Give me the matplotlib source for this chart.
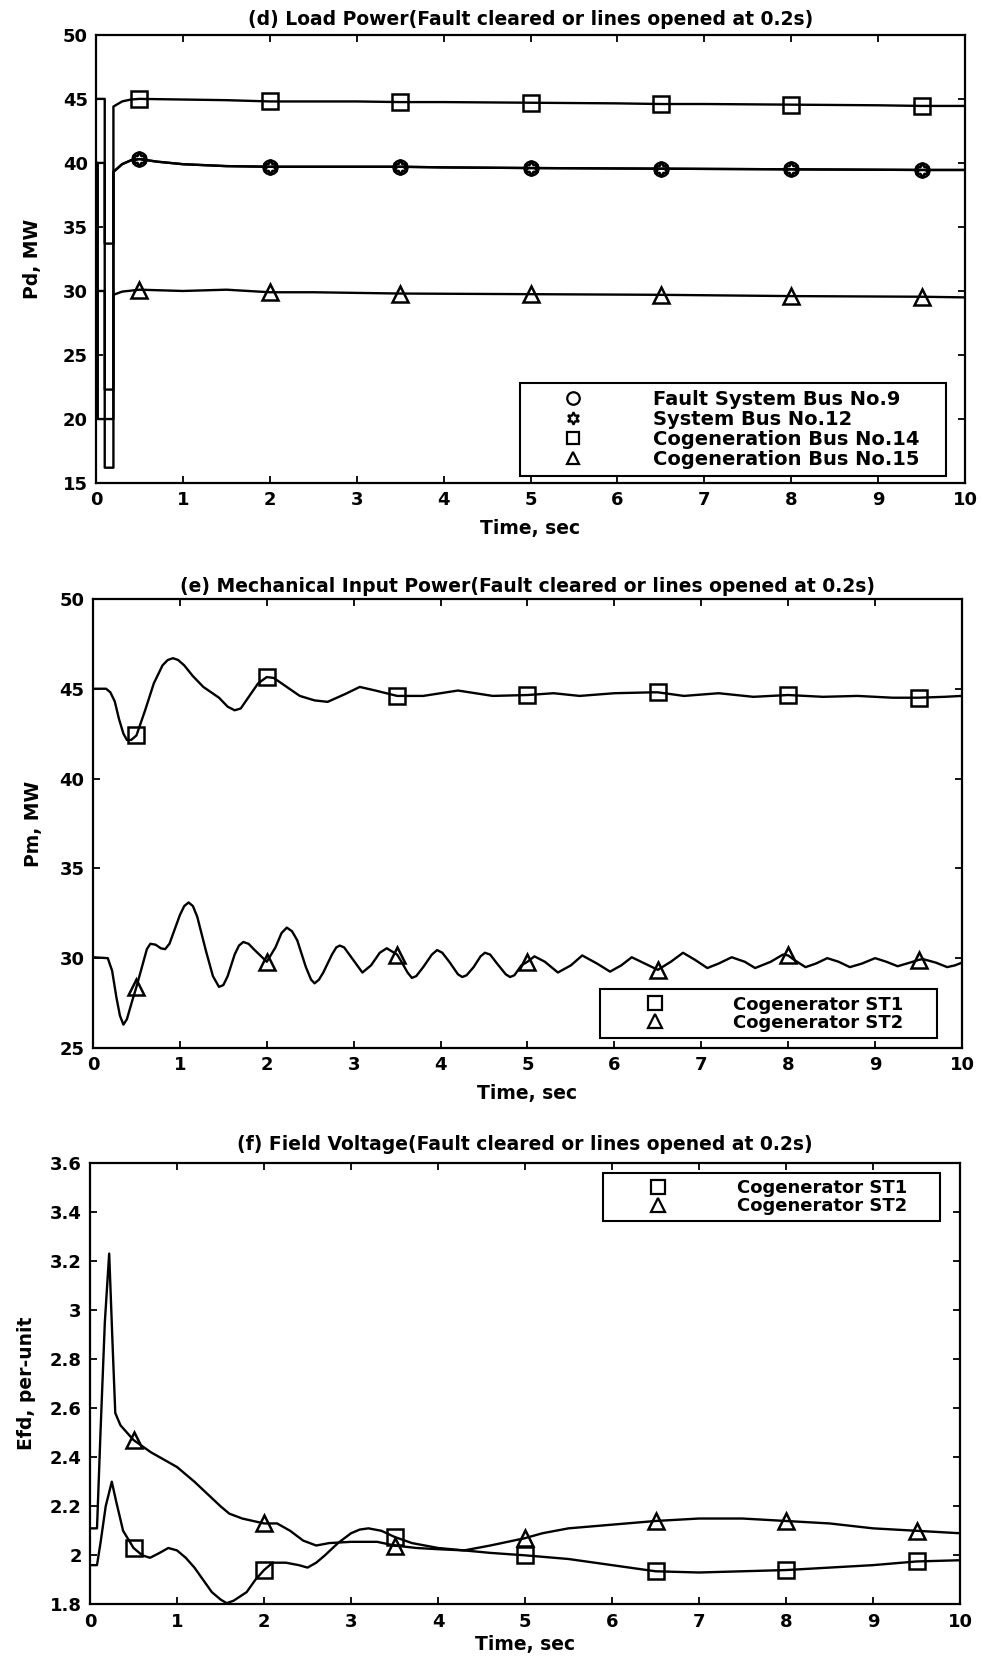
import matplotlib
matplotlib.use('Agg')
import matplotlib.pyplot as plt
from matplotlib.lines import Line2D
from matplotlib.ticker import FuncFormatter

plt.rcParams['font.family'] = ['DejaVu Sans']
plt.rcParams['font.weight'] = 'bold'

# ---- (d) load power ----
t_bus9 = [0, 0.02, 0.02, 0.2, 0.2, 0.3, 0.4, 0.5, 0.7, 1.0, 1.5, 2.0, 3.0, 3.5, 4.0, 5.0, 6.5, 8.0, 9.5, 10]
pd_bus9 = [40, 40, 20, 20, 39.3, 39.9, 40.2, 40.3, 40.1, 39.9, 39.75, 39.7, 39.7, 39.7, 39.65, 39.6, 39.55, 39.5, 39.45, 39.45]
t_bus12 = [0, 0.1, 0.1, 0.2, 0.2, 0.3, 0.4, 0.5, 0.7, 1.0, 1.5, 2.0, 3.0, 3.5, 4.0, 5.0, 6.5, 8.0, 9.5, 10]
pd_bus12 = [40, 40, 33.7, 33.7, 39.3, 39.9, 40.2, 40.3, 40.1, 39.9, 39.75, 39.7, 39.7, 39.7, 39.65, 39.6, 39.55, 39.5, 39.45, 39.45]
t_bus14 = [0, 0.1, 0.1, 0.2, 0.2, 0.3, 0.4, 0.5, 1.0, 1.5, 2.0, 3.0, 3.5, 4.0, 5.0, 6.0, 6.5, 7.0, 8.0, 9.0, 9.5, 10]
pd_bus14 = [45, 45, 16.2, 16.2, 44.4, 44.8, 44.95, 45.0, 44.95, 44.9, 44.8, 44.8, 44.75, 44.75, 44.7, 44.65, 44.6, 44.6, 44.55, 44.5, 44.45, 44.45]
t_bus15 = [0, 0.1, 0.1, 0.2, 0.2, 0.3, 0.5, 1.0, 1.5, 2.0, 2.5, 3.5, 5.0, 6.5, 8.0, 9.5, 10]
pd_bus15 = [30, 30, 22.3, 22.3, 29.7, 29.95, 30.1, 30.0, 30.1, 29.9, 29.9, 29.8, 29.75, 29.7, 29.6, 29.55, 29.5]

t_mark = [0.5, 2, 3.5, 5, 6.5, 8, 9.5]
pd_mark9 = [40.3, 39.7, 39.7, 39.6, 39.55, 39.5, 39.45]
pd_mark12 = [40.3, 39.7, 39.7, 39.6, 39.55, 39.5, 39.45]
pd_mark14 = [45.0, 44.8, 44.75, 44.7, 44.6, 44.55, 44.45]
pd_mark15 = [30.1, 29.9, 29.8, 29.75, 29.7, 29.6, 29.55]

# ---- (e) mechanical input power ----
t_pm1 = [0, 0.15, 0.2, 0.25, 0.3, 0.35, 0.39, 0.44, 0.5, 0.6, 0.7, 0.8, 0.86, 0.92, 0.98, 1.05, 1.15, 1.27,
         1.45, 1.55, 1.63, 1.7, 1.8, 1.9, 2.0, 2.08, 2.2, 2.38, 2.55, 2.7, 2.9, 3.07, 3.25, 3.5, 3.8, 4.2,
         4.6, 5.0, 5.3, 5.6, 6.0, 6.44, 6.5, 6.8, 7.2, 7.6, 8.0, 8.4, 8.8, 9.2, 9.5, 9.8, 10]
pm_st1 = [45, 45, 44.8, 44.3, 43.3, 42.5, 42.15, 42.15, 42.4, 43.8, 45.3, 46.3, 46.6, 46.7, 46.6, 46.3, 45.7, 45.1,
          44.5, 44.0, 43.8, 43.9, 44.6, 45.3, 45.65, 45.6, 45.2, 44.6, 44.35, 44.27, 44.7, 45.1, 44.9, 44.6, 44.6, 44.9,
          44.6, 44.65, 44.75, 44.6, 44.75, 44.8, 44.8, 44.6, 44.75, 44.55, 44.65, 44.55, 44.6, 44.5, 44.5, 44.55, 44.6]
t_pm2 = [0, 0.17, 0.22, 0.27, 0.31, 0.35, 0.39, 0.45, 0.5, 0.58, 0.62, 0.66, 0.72, 0.78, 0.83, 0.88, 0.94, 1.0,
         1.05, 1.1, 1.15, 1.2, 1.3, 1.38, 1.45, 1.5, 1.55, 1.63, 1.68, 1.73, 1.79, 1.85, 2.0, 2.1, 2.17, 2.23,
         2.29, 2.35, 2.45, 2.51, 2.55, 2.6, 2.65, 2.75, 2.8, 2.84, 2.89, 2.95, 3.1, 3.2, 3.3, 3.38, 3.5,
         3.55, 3.62, 3.67, 3.72, 3.8, 3.9, 3.96, 4.02, 4.1, 4.2, 4.25, 4.3, 4.38, 4.46, 4.51, 4.57, 4.65, 4.75,
         4.8, 4.85, 4.93, 5.0, 5.08, 5.2, 5.35, 5.5, 5.63, 5.8, 5.95, 6.08, 6.2, 6.35, 6.5, 6.65, 6.79, 6.93,
         7.07, 7.2, 7.35, 7.5, 7.62, 7.8, 7.94, 8.0, 8.07, 8.2, 8.32, 8.45, 8.58, 8.71, 8.85, 9.0, 9.13, 9.26,
         9.4, 9.5, 9.55, 9.7, 9.83, 9.92, 10]
pm_st2 = [30.05, 30.0, 29.3, 27.8, 26.8, 26.3, 26.6, 27.6, 28.4, 29.8, 30.5, 30.8, 30.75, 30.55, 30.5, 30.8, 31.6, 32.4,
          32.9, 33.1, 32.9, 32.3, 30.4, 29.0, 28.4, 28.5, 29.0, 30.2, 30.7, 30.9, 30.8, 30.5, 29.8, 30.6, 31.4, 31.7,
          31.5, 31.0, 29.5, 28.8, 28.6, 28.8, 29.2, 30.2, 30.6, 30.7, 30.6, 30.2, 29.2, 29.6, 30.3, 30.55, 30.2,
          29.8, 29.2, 28.9, 29.0, 29.5, 30.2, 30.45, 30.3, 29.8, 29.1, 28.95, 29.05, 29.5, 30.1, 30.3, 30.2, 29.7, 29.1,
          28.95, 29.05, 29.6, 29.8, 30.1, 29.8, 29.2, 29.6, 30.15, 29.7, 29.25, 29.6, 30.05, 29.7, 29.35, 29.8, 30.3, 29.9,
          29.45, 29.7, 30.05, 29.8, 29.45, 29.8, 30.2, 30.15, 29.9, 29.5, 29.7, 30.0, 29.8, 29.5, 29.7, 30.0, 29.8, 29.55,
          29.75, 29.9, 29.95, 29.75, 29.5, 29.6, 29.75]
pm_mark1 = [42.4, 45.65, 44.6, 44.65, 44.8, 44.65, 44.5]
pm_mark2 = [28.4, 29.8, 30.2, 29.8, 29.35, 30.15, 29.9]

# ---- (f) field voltage ----
t_efd1 = [0, 0.08, 0.12, 0.18, 0.25, 0.3, 0.38, 0.5, 0.6, 0.69, 0.8, 0.9, 1.0, 1.1, 1.2, 1.3, 1.4, 1.5,
          1.57, 1.65, 1.8, 1.9, 2.0, 2.1, 2.25, 2.4, 2.5, 2.6, 2.7, 2.85, 3.0, 3.1, 3.2, 3.35, 3.5, 3.7,
          4.0, 4.3, 4.6, 5.0, 5.5, 6.0, 6.5, 7.0, 7.5, 8.0, 8.5, 9.0, 9.5, 10]
efd_st1 = [1.96, 1.96, 2.05, 2.2, 2.3, 2.22, 2.1, 2.03, 2.0, 1.99, 2.01, 2.03, 2.02, 1.99, 1.95, 1.9, 1.85, 1.82,
           1.805, 1.815, 1.85, 1.9, 1.94, 1.97, 1.97, 1.96, 1.95, 1.97, 2.0, 2.05, 2.09, 2.105, 2.11, 2.1, 2.075, 2.05,
           2.03, 2.02, 2.01, 2.0, 1.985, 1.96, 1.935, 1.93, 1.935, 1.94, 1.95, 1.96, 1.975, 1.98]
t_efd2 = [0, 0.08, 0.12, 0.17, 0.22, 0.26, 0.29, 0.35, 0.5, 0.7, 0.9, 1.0, 1.1, 1.2, 1.35, 1.5, 1.6, 1.75,
          2.0, 2.15, 2.3, 2.45, 2.6, 2.75, 3.0, 3.3, 3.5, 3.75, 4.0, 4.3, 4.6, 5.0, 5.2, 5.5, 6.0, 6.5, 7.0,
          7.5, 8.0, 8.5, 9.0, 9.5, 10]
efd_st2 = [2.11, 2.11, 2.5, 2.95, 3.23, 2.85, 2.58, 2.53, 2.47, 2.42, 2.38, 2.36, 2.33, 2.3, 2.25, 2.2, 2.17, 2.15,
           2.13, 2.13, 2.1, 2.06, 2.04, 2.05, 2.055, 2.055, 2.04, 2.03, 2.025, 2.02, 2.04, 2.07, 2.09, 2.11, 2.125, 2.14, 2.15,
           2.15, 2.14, 2.13, 2.11, 2.10, 2.09]
efd_mark1 = [2.03, 1.94, 2.075, 2.0, 1.935, 1.94, 1.975]
efd_mark2 = [2.47, 2.13, 2.04, 2.07, 2.14, 2.14, 2.10]

x_ticks = list(range(0, 11))
LW = 1.7
MS = 11
MEW = 1.8


def draw(ax, t, v, mt, mv, marker, ms=MS):
    ax.plot(t, v, color='black', lw=LW)
    ax.plot(mt, mv, ls='none', marker=marker, ms=ms, mfc='none', mec='black', mew=MEW)


def style(ax, ylim, yticks, title, ylabel, title_pad, xpad=7):
    ax.set_xlim(0, 10)
    ax.set_ylim(*ylim)
    ax.set_xticks(x_ticks)
    ax.set_yticks(yticks)
    ax.yaxis.set_major_formatter(FuncFormatter(lambda v, p: f'{v:g}'))
    ax.tick_params(direction='in', top=True, right=True, length=5, width=1.3,
                   labelsize=13, pad=6)
    for s in ax.spines.values():
        s.set_linewidth(1.6)
    ax.set_title(title, fontsize=13.5, fontweight='bold', pad=title_pad)
    ax.set_xlabel('Time, sec', fontsize=13.5, fontweight='bold', labelpad=xpad)
    ax.set_ylabel(ylabel, fontsize=13.5, fontweight='bold')


def handle(marker, ms=9):
    return Line2D([], [], ls='none', marker=marker, ms=ms, mfc='none', mec='black', mew=1.6)


def frame(leg):
    f = leg.get_frame()
    f.set_linewidth(1.5)
    f.set_edgecolor('black')


fig = plt.figure(figsize=(9.83, 16.6), dpi=100)

# (d)
ax1 = fig.add_axes([0.0977, 0.709, 0.884, 0.270])
draw(ax1, t_bus9, pd_bus9, t_mark, pd_mark9, 'o', 10)
draw(ax1, t_bus12, pd_bus12, t_mark, pd_mark12, (6, 1, 0), 11)
draw(ax1, t_bus14, pd_bus14, t_mark, pd_mark14, 's')
draw(ax1, t_bus15, pd_bus15, t_mark, pd_mark15, '^')
style(ax1, (15, 50), range(15, 51, 5),
      '(d) Load Power(Fault cleared or lines opened at 0.2s)', 'Pd, MW', 7)
ax1.yaxis.set_label_coords(-0.062, 0.5)
leg = ax1.legend([handle('o'), handle((6, 1, 0)), handle('s'), handle('^')],
                 ['Fault System Bus No.9', 'System Bus No.12',
                  'Cogeneration Bus No.14', 'Cogeneration Bus No.15'],
                 loc='lower left', bbox_to_anchor=(0.488, 0.016, 0.49, 0.221), mode='expand',
                 borderaxespad=0, fontsize=14, handlelength=4.76, handletextpad=1.7,
                 labelspacing=0.05, borderpad=0.35, fancybox=False, framealpha=1)
frame(leg)

# (e)
ax2 = fig.add_axes([0.0946, 0.3687, 0.884, 0.2705])
draw(ax2, t_pm1, pm_st1, t_mark, pm_mark1, 's')
draw(ax2, t_pm2, pm_st2, t_mark, pm_mark2, '^')
style(ax2, (25, 50), range(25, 51, 5),
      '(e) Mechanical Input Power(Fault cleared or lines opened at 0.2s)', 'Pm, MW', 5)
ax2.yaxis.set_label_coords(-0.058, 0.5)
leg = ax2.legend([handle('s', 10), handle('^', 10)], ['Cogenerator ST1', 'Cogenerator ST2'],
                 loc='lower left', bbox_to_anchor=(0.583, 0.022, 0.388, 0.114), mode='expand',
                 borderaxespad=0, fontsize=13, handlelength=5.4, handletextpad=1.63,
                 labelspacing=0.0, borderpad=0.35, fancybox=False, framealpha=1)
frame(leg)

# (f)
ax3 = fig.add_axes([0.0916, 0.0335, 0.885, 0.266])
draw(ax3, t_efd1, efd_st1, t_mark, efd_mark1, 's')
draw(ax3, t_efd2, efd_st2, t_mark, efd_mark2, '^')
style(ax3, (1.8, 3.6), [1.8 + 0.2 * i for i in range(10)],
      '(f) Field Voltage(Fault cleared or lines opened at 0.2s)', 'Efd, per-unit', 9, xpad=3)
ax3.yaxis.set_label_coords(-0.062, 0.5)
leg = ax3.legend([handle('s', 10), handle('^', 10)], ['Cogenerator ST1', 'Cogenerator ST2'],
                 loc='upper left', bbox_to_anchor=(0.59, 0.857, 0.387, 0.121), mode='expand',
                 borderaxespad=0, fontsize=13, handlelength=5.4, handletextpad=1.63,
                 labelspacing=0.0, borderpad=0.35, fancybox=False, framealpha=1)
frame(leg)

fig.savefig('out.png', dpi=100)
